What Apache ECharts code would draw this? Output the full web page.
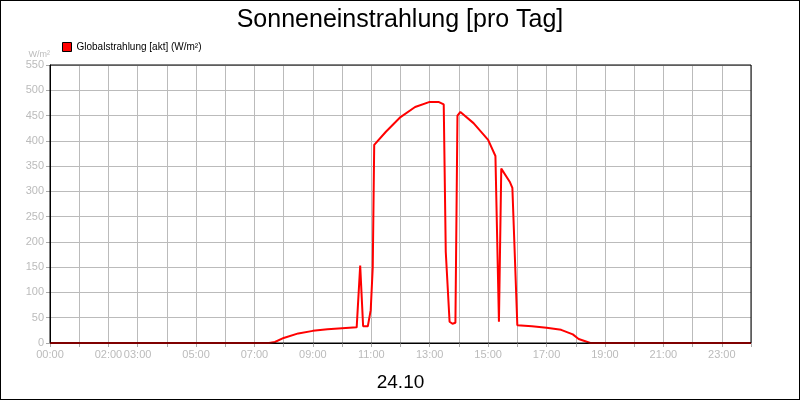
<!DOCTYPE html>
<html><head><meta charset="utf-8">
<script src="https://cdn.jsdelivr.net/npm/echarts@6/dist/echarts.min.js"></script>
<style>
body{margin:0}
#chart{width:798px;height:398px;border:1px solid #000;background:#fff}
</style></head>
<body><div id="chart"></div>
<script>
// time in hours, value W/m²
const hours = [0, 7.5, 7.7, 8, 8.5, 9, 9.5, 10, 10.5, 10.55, 10.62, 10.72, 10.88, 10.98, 11.05, 11.1, 11.5, 12, 12.5, 13, 13.3, 13.48, 13.55, 13.68, 13.78, 13.88, 13.95, 14.05, 14.5, 15, 15.25, 15.37, 15.45, 15.75, 15.83, 16, 16.5, 17, 17.5, 17.9, 18.1, 18.5, 24];
const values = [0, 0, 2, 10, 19, 24, 27, 29, 31, 32, 153, 33, 33, 65, 150, 392, 418, 447, 467, 477, 477, 472, 180, 42, 38, 40, 450, 457, 435, 402, 370, 42, 345, 318, 307, 35, 33, 30, 26, 17, 8, 0, 0];
const shownHours = [0, 2, 3, 5, 7, 9, 11, 13, 15, 17, 19, 21, 23];

const chart = echarts.init(document.getElementById('chart'));
const pad = n => (n < 10 ? '0' : '') + n + ':00';
chart.setOption({
    animation: false,
    textStyle: { fontFamily: 'Liberation Sans, Arial' },
    title: { text: 'Sonneneinstrahlung [pro Tag]', left: 'center', top: 2,
        textStyle: { fontSize: 25, fontWeight: 'normal', color: '#000' } },
    legend: { left: 56, top: 36, itemWidth: 9, itemHeight: 9, icon: 'rect',
        data: [{ name: 'Globalstrahlung [akt] (W/m²)', itemStyle: { borderColor: '#000', borderWidth: 1 } }],
        textStyle: { fontSize: 10, color: '#000' } },
    grid: { left: 49, right: 48, top: 64, bottom: 56 },
    xAxis: {
        type: 'value', min: 0, max: 24, interval: 1,
        name: '24.10', nameLocation: 'middle', nameGap: 30,
        nameTextStyle: { fontSize: 19, color: '#000' },
        axisLine: { lineStyle: { color: '#000' } },
        axisTick: { show: true, length: 4, lineStyle: { color: '#aaa' } },
        axisLabel: { color: '#bbb', fontSize: 11, margin: 6,
            formatter: v => shownHours.includes(v) ? pad(v) : '' },
        splitLine: { lineStyle: { color: '#bbb' } }
    },
    yAxis: {
        type: 'value', min: 0, max: 550, interval: 50,
        name: 'W/m²', nameLocation: 'end', nameGap: 6,
        nameTextStyle: { color: '#bbb', fontSize: 9, align: 'right', padding: [0, 0, 0, 0] },
        axisLine: { show: true, lineStyle: { color: '#000' } },
        axisTick: { show: true, length: 4, lineStyle: { color: '#aaa' } },
        axisLabel: { color: '#bbb', fontSize: 11, margin: 6 },
        splitLine: { lineStyle: { color: '#bbb' } }
    },
    series: [{
        name: 'Globalstrahlung [akt] (W/m²)', type: 'line', showSymbol: false,
        data: hours.map((h, i) => [h, values[i]]),
        lineStyle: { color: '#f00', width: 2 }, itemStyle: { color: '#f00' }
    }],
    graphic: [{ type: 'rect', shape: { x: 49, y: 64, width: 701, height: 278 },
        style: { fill: 'none', stroke: '#000', lineWidth: 1 }, z: 100 }]
});
</script></body></html>
